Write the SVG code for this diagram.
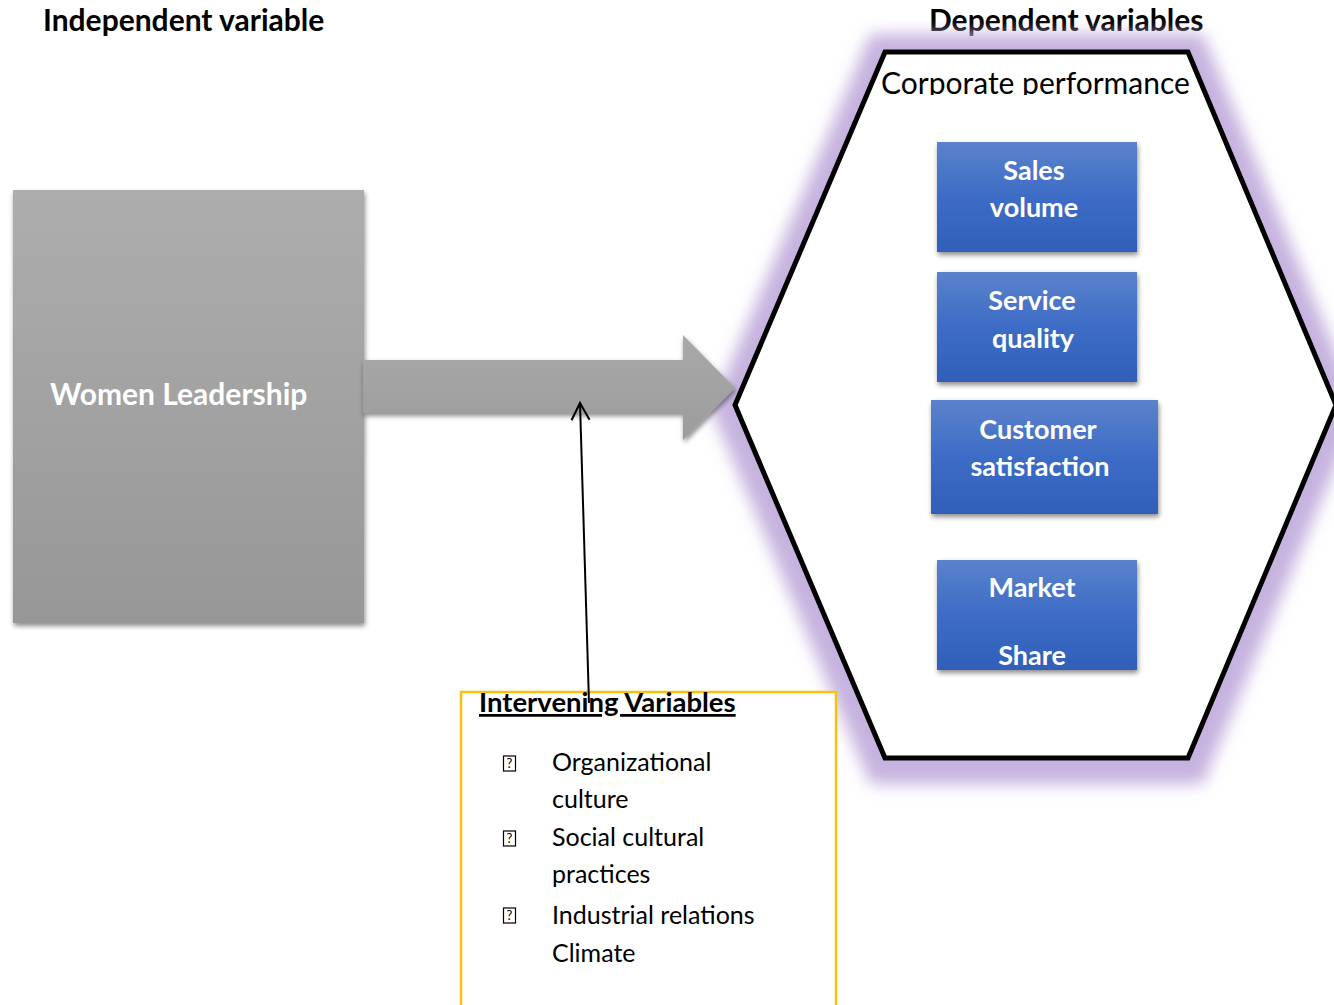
<svg xmlns="http://www.w3.org/2000/svg" width="1334" height="1005" viewBox="0 0 1334 1005">
<defs>
<linearGradient id="gGray" x1="0" y1="0" x2="0" y2="1">
<stop offset="0" stop-color="#adadad"/><stop offset="1" stop-color="#979797"/>
</linearGradient>
<linearGradient id="gArrow" x1="0" y1="0" x2="0" y2="1">
<stop offset="0" stop-color="#a9a9a9"/><stop offset="1" stop-color="#9c9c9c"/>
</linearGradient>
<linearGradient id="gBlue" x1="0" y1="0" x2="0" y2="1">
<stop offset="0" stop-color="#5b82cb"/><stop offset="0.5" stop-color="#3d6cc6"/><stop offset="1" stop-color="#2f5fb9"/>
</linearGradient>
<filter id="shadow" x="-10%" y="-10%" width="130%" height="130%">
<feDropShadow dx="1" dy="3" stdDeviation="2.5" flood-color="#000" flood-opacity="0.45"/>
</filter>
<filter id="glow" x="-20%" y="-20%" width="140%" height="140%">
<feGaussianBlur stdDeviation="8"/>
</filter>
<clipPath id="clipCP"><rect x="860" y="60" width="360" height="35"/></clipPath>
<marker id="open" markerWidth="22" markerHeight="22" refX="18" refY="10" orient="auto" markerUnits="userSpaceOnUse">
<path d="M1,1 L18,10 L1,19" fill="none" stroke="#000" stroke-width="2"/>
</marker>
<style>
.t{font-family:Lato,"Open Sans","Liberation Sans",sans-serif;}
.hd{font-weight:bold;font-size:30px;fill:#000;}
.wt{font-weight:bold;font-size:27px;fill:#fff;text-anchor:middle;}
.li{font-size:25px;fill:#000;}
.bx{fill:url(#gBlue);filter:url(#shadow);}
</style>
</defs>
<rect width="1334" height="1005" fill="#fff"/>
<text class="t hd" x="43" y="31">Independent variable</text>
<text class="t hd" x="929" y="31">Dependent variables</text>

<g id="hexagon">
<polygon points="735,405 885,52 1188,52 1336,405 1188,758 885,758" fill="none" stroke="#c6b2df" stroke-width="44" filter="url(#glow)" transform="translate(0,4)"/>
<polygon points="735,405 885,52 1188,52 1336,405 1188,758 885,758" fill="#fff" stroke="#000" stroke-width="5" stroke-linejoin="miter"/>
<text class="t" x="881" y="94" font-size="30" fill="#000" clip-path="url(#clipCP)">Corporate performance</text>
</g>

<g id="women-leadership">
<rect x="13" y="190" width="351" height="433" fill="url(#gGray)" filter="url(#shadow)"/>
<text class="t" x="50" y="405" font-size="30" font-weight="bold" fill="#fff">Women Leadership</text>
</g>

<g id="sales-volume">
<rect class="bx" x="937" y="142" width="200" height="110"/>
<text class="t wt" x="1034" y="180">Sales</text>
<text class="t wt" x="1034" y="217">volume</text>
</g>
<g id="service-quality">
<rect class="bx" x="937" y="272" width="200" height="110"/>
<text class="t wt" x="1032" y="310">Service</text>
<text class="t wt" x="1033" y="348">quality</text>
</g>
<g id="customer-satisfaction">
<rect class="bx" x="931" y="400" width="227" height="114"/>
<text class="t wt" x="1038" y="439">Customer</text>
<text class="t wt" x="1040" y="476">satisfaction</text>
</g>
<g id="market-share">
<rect class="bx" x="937" y="560" width="200" height="110"/>
<text class="t wt" x="1032" y="597">Market</text>
<text class="t wt" x="1032" y="665">Share</text>
</g>

<g id="intervening">
<rect x="461" y="692" width="375" height="320" fill="#fff" stroke="#fbc00a" stroke-width="2.5"/>
<text class="t" x="479" y="712" font-size="27.5" font-weight="bold" fill="#000" text-decoration="underline">Intervening Variables</text>
<g fill="none" stroke="#000" stroke-width="1.2">
<rect x="503.5" y="756" width="12" height="15"/>
<rect x="503.5" y="831" width="12" height="15"/>
<rect x="503.5" y="908" width="12" height="15"/>
</g>
<g class="t" font-size="13" fill="#000" text-anchor="middle">
<text x="509.5" y="768">?</text>
<text x="509.5" y="843">?</text>
<text x="509.5" y="920">?</text>
</g>
<text class="t li" x="552" y="771">Organizational</text>
<text class="t li" x="552" y="808">culture</text>
<text class="t li" x="552" y="846">Social cultural</text>
<text class="t li" x="552" y="883">practices</text>
<text class="t li" x="552" y="924">Industrial relations</text>
<text class="t li" x="552" y="962">Climate</text>
</g>

<g id="connectors">
<polygon points="363,360 683,360 683,335 735,388 683,440 683,413 363,413" fill="url(#gArrow)" filter="url(#shadow)"/>
<line x1="589" y1="703" x2="580" y2="403" stroke="#000" stroke-width="2" marker-end="url(#open)"/>
</g>
</svg>
